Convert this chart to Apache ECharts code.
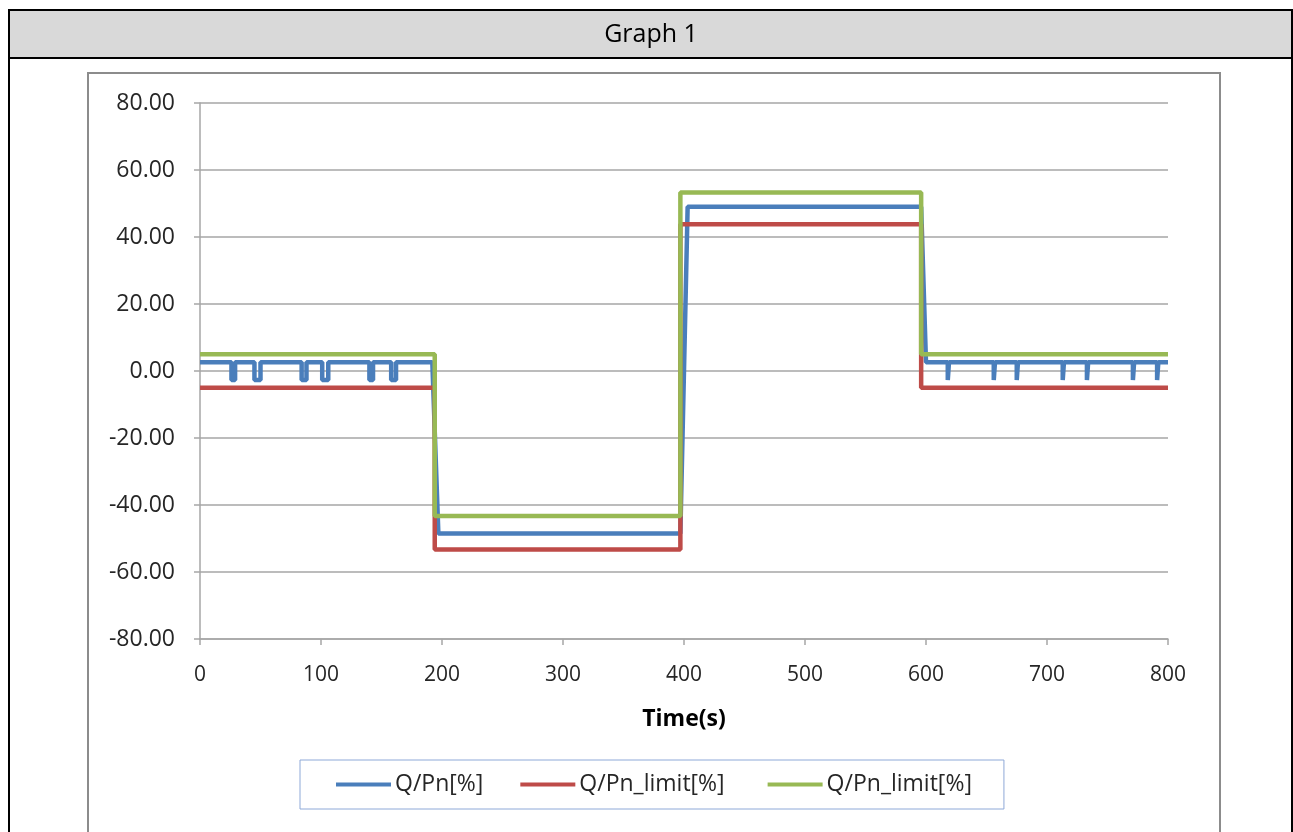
<!DOCTYPE html>
<html>
<head>
<meta charset="utf-8">
<script src="https://cdn.jsdelivr.net/npm/echarts@6/dist/echarts.min.js"></script>
<style>
  html, body { margin: 0; padding: 0; background: #fff; }
  #chart { width: 1293px; height: 832px; }
</style>
</head>
<body>
<div id="chart"></div>
<script>
// x ticks / y ticks
var xTicks = [0, 100, 200, 300, 400, 500, 600, 700, 800];
var yTicks = [-80, -60, -40, -20, 0, 20, 40, 60, 80];

var blueTime = [0, 26, 26, 29, 29, 45, 45, 50, 50, 84, 84, 88, 88, 101, 101, 106, 106,
  140, 140, 143, 143, 158, 158, 162, 162, 192, 197, 397, 403, 596, 600,
  618, 618, 619, 619, 656, 656, 657, 657, 675, 675, 676, 676, 713, 713, 714, 714,
  733, 733, 734, 734, 771, 771, 772, 772, 791, 791, 792, 792, 800];
var blueValue = [2.6, 2.6, -2.7, -2.7, 2.6, 2.6, -2.7, -2.7, 2.6, 2.6, -2.7, -2.7, 2.6, 2.6, -2.7, -2.7, 2.6,
  2.6, -2.7, -2.7, 2.6, 2.6, -2.7, -2.7, 2.6, 2.6, -48.5, -48.5, 49, 49, 2.6,
  2.6, -2.7, -2.7, 2.6, 2.6, -2.7, -2.7, 2.6, 2.6, -2.7, -2.7, 2.6, 2.6, -2.7, -2.7, 2.6,
  2.6, -2.7, -2.7, 2.6, 2.6, -2.7, -2.7, 2.6, 2.6, -2.7, -2.7, 2.6, 2.6];

// lower limit (red)
var redTime = [0, 194, 194, 397, 397, 596, 596, 800];
var redValue = [-5, -5, -53.3, -53.3, 43.8, 43.8, -5, -5];

// upper limit (green)
var greenTime = [0, 194, 194, 397, 397, 596, 596, 800];
var greenValue = [5, 5, -43.3, -43.3, 53.3, 53.3, 5, 5];

function pairs(t, v) {
  var out = [];
  for (var i = 0; i < t.length; i++) out.push([t[i], v[i]]);
  return out;
}

var font = "Open Sans";
var txt = "#262626";

var option = {
  animation: false,
  textStyle: { fontFamily: font },
  color: ["#4A7EBB", "#BE4B48", "#98B954"],
  graphic: [
    { type: "rect", shape: { x: 9, y: 10, width: 1300, height: 48 }, style: { fill: "#D9D9D9" } },
    { type: "rect", shape: { x: 9, y: 10, width: 1283, height: 830 }, style: { fill: null, stroke: "#000", lineWidth: 2 } },
    { type: "line", shape: { x1: 9, y1: 58, x2: 1293, y2: 58 }, style: { stroke: "#000", lineWidth: 2 } },
    { type: "text", x: 651, y: 35, style: { text: "Graph 1", fill: "#000", font: "25px 'Open Sans'", textAlign: "center", textVerticalAlign: "middle" } },
    { type: "rect", shape: { x: 88, y: 73, width: 1132, height: 760 }, style: { fill: null, stroke: "#8C8C8C", lineWidth: 2 } }
  ],
  grid: { left: 200, top: 103, width: 968, height: 536, containLabel: false },
  legend: {
    left: 300,
    top: 760,
    padding: [13, 32, 13, 36],
    borderColor: "#8EA9D8",
    borderWidth: 1,
    icon: "rect",
    itemWidth: 55,
    itemHeight: 4,
    itemGap: 37,
    textStyle: { fontSize: 23, color: txt, fontFamily: font, padding: [0, 0, 0, -1] },
    data: ["Q/Pn[%]", "Q/Pn_limit[%] ", "Q/Pn_limit[%]"]
  },
  xAxis: {
    type: "value",
    min: xTicks[0],
    max: xTicks[xTicks.length - 1],
    interval: 100,
    name: "Time(s)",
    nameLocation: "middle",
    nameGap: 69,
    nameTextStyle: { fontSize: 23, fontWeight: "bold", color: "#000", fontFamily: font },
    axisLine: { onZero: false, lineStyle: { color: "#A6A6A6", width: 1.5 } },
    axisTick: { show: true, length: 6, lineStyle: { color: "#A6A6A6", width: 1.5 } },
    axisLabel: { fontSize: 21, color: txt, margin: 26 },
    splitLine: { show: false }
  },
  yAxis: {
    type: "value",
    min: yTicks[0],
    max: yTicks[yTicks.length - 1],
    interval: 20,
    axisLine: { show: true, onZero: false, lineStyle: { color: "#A6A6A6", width: 1.5 } },
    axisTick: { show: true, length: 6, lineStyle: { color: "#A6A6A6", width: 1.5 } },
    axisLabel: { fontSize: 23, color: txt, margin: 25, formatter: function (v) { return v.toFixed(2); } },
    splitLine: { lineStyle: { color: "#A6A6A6", width: 1.5 } }
  },
  series: [
    { name: "Q/Pn[%]", type: "line", showSymbol: false, symbol: "none", data: pairs(blueTime, blueValue), lineStyle: { width: 4.5 } },
    { name: "Q/Pn_limit[%] ", type: "line", showSymbol: false, symbol: "none", data: pairs(redTime, redValue), lineStyle: { width: 4.5 } },
    { name: "Q/Pn_limit[%]", type: "line", showSymbol: false, symbol: "none", data: pairs(greenTime, greenValue), lineStyle: { width: 4.5 } }
  ]
};

var myChart = echarts.init(document.getElementById("chart"));
myChart.setOption(option);
</script>
</body>
</html>
